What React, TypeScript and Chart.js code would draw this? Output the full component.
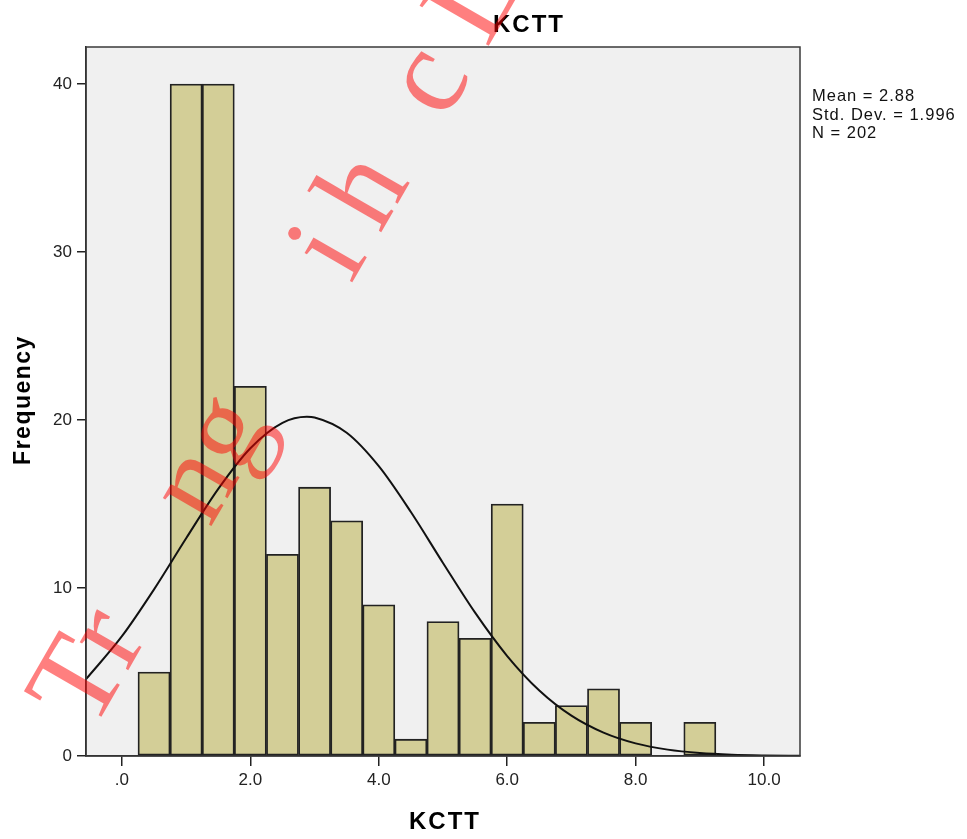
import React, { useEffect, useRef } from "react";
import { Chart, registerables } from "chart.js";

Chart.register(...registerables);

// Histogram bins (bin centers, width 0.5) and frequencies
const binCenters = [0.5, 1.0, 1.5, 2.0, 2.5, 3.0, 3.5, 4.0, 4.5, 5.0, 5.5, 6.0, 6.5, 7.0, 7.5, 8.0, 8.5, 9.0];
const frequencies = [5, 40, 40, 22, 12, 16, 14, 9, 1, 8, 7, 15, 2, 3, 4, 2, 0, 2];

// Normal curve (Mean 2.88, SD 1.996, N 202)
const curveX = [-0.56, 0, 0.5, 1, 1.5, 2, 2.5, 2.88, 3, 3.5, 4, 4.5, 5, 5.5, 6, 6.5, 7, 7.5, 8, 8.5, 9, 9.5, 10, 10.56];
const curveY = [4.57, 7.13, 9.92, 12.96, 15.9, 18.32, 19.83, 20.19, 20.15, 19.24, 17.25, 14.52, 11.49, 8.53, 5.95, 3.9, 2.4, 1.39, 0.75, 0.38, 0.18, 0.08, 0.035, 0.012];

const xTickValues = [0, 2, 4, 6, 8, 10];
const yTickValues = [0, 10, 20, 30, 40];

const chartTitle = "KCTT";
const xTitle = "KCTT";
const yTitle = "Frequency";
const statsLines = ["Mean = 2.88", "Std. Dev. = 1.996", "N = 202"];

// Watermark pieces (text + offset along its baseline)
const watermarkParts = ["Tr", "ng", "i", "h", "c", "L"];
const watermarkOffsets = [0, 236, 518, 576, 706, 790];

const SANS = "'Liberation Sans', Arial, sans-serif";

export default function App() {
  const ref = useRef<HTMLCanvasElement | null>(null);

  useEffect(() => {
    const canvas = ref.current;
    if (!canvas) return;

    const decor = {
      id: "decor",
      beforeDraw(chart: any) {
        const { ctx, chartArea } = chart;
        ctx.save();
        ctx.fillStyle = "#ffffff";
        ctx.fillRect(0, 0, chart.width, chart.height);
        ctx.fillStyle = "#f0f0f0";
        ctx.fillRect(chartArea.left, chartArea.top, chartArea.right - chartArea.left, chartArea.bottom - chartArea.top);
        ctx.restore();
      },
      afterDraw(chart: any) {
        const { ctx, chartArea } = chart;
        ctx.save();
        // frame
        ctx.strokeStyle = "#3a3a3a";
        ctx.lineWidth = 1.5;
        ctx.strokeRect(chartArea.left, chartArea.top, chartArea.right - chartArea.left, chartArea.bottom - chartArea.top);

        // titles
        ctx.fillStyle = "#000";
        ctx.textAlign = "center";
        ctx.textBaseline = "middle";
        ctx.font = `bold 24px ${SANS}`;
        (ctx as any).letterSpacing = "2px";
        ctx.fillText(chartTitle, 529, 25);
        ctx.fillText(xTitle, 445, 822);
        ctx.font = `bold 23px ${SANS}`;
        (ctx as any).letterSpacing = "1.5px";
        ctx.save();
        ctx.translate(24, 400);
        ctx.rotate(-Math.PI / 2);
        ctx.fillText(yTitle, 0, 0);
        ctx.restore();

        // stats
        ctx.font = `16.5px ${SANS}`;
        (ctx as any).letterSpacing = "1px";
        ctx.textAlign = "left";
        ctx.textBaseline = "alphabetic";
        ctx.fillStyle = "#111";
        statsLines.forEach((s, i) => ctx.fillText(s, 812, 101 + i * 18.5));
        (ctx as any).letterSpacing = "0px";

        // watermark
        ctx.save();
        ctx.translate(92, 733);
        ctx.rotate((-60 * Math.PI) / 180);
        ctx.font = `122px 'Liberation Serif', 'DejaVu Serif', serif`;
        ctx.fillStyle = "rgba(255, 0, 0, 0.5)";
        ctx.strokeStyle = "rgba(255, 0, 0, 0.5)";
        ctx.textAlign = "left";
        ctx.textBaseline = "alphabetic";
        watermarkParts.forEach((p, i) => ctx.fillText(p, watermarkOffsets[i], 0));
        ctx.restore();

        ctx.restore();
      },
    };

    const chart = new Chart(canvas, {
      type: "bar",
      data: {
        datasets: [
          {
            type: "line",
            data: curveX.map((x, i) => ({ x, y: curveY[i] })),
            borderColor: "#111",
            borderWidth: 2,
            pointRadius: 0,
            fill: false,
            cubicInterpolationMode: "monotone",
            order: 0,
          } as any,
          {
            type: "bar",
            data: binCenters.map((x, i) => ({ x, y: frequencies[i] })),
            backgroundColor: "#D3CE97",
            borderColor: "#222",
            borderWidth: 1.8,
            borderSkipped: false,
            barPercentage: 1,
            categoryPercentage: 1,
            order: 1,
          } as any,
        ],
      },
      plugins: [decor],
      options: {
        animation: false,
        responsive: false,
        devicePixelRatio: 1,
        layout: { padding: { left: 0, right: 167, top: 47, bottom: 0 } },
        plugins: { legend: { display: false }, tooltip: { enabled: false }, title: { display: false } },
        scales: {
          x: {
            type: "linear",
            min: -0.56,
            max: 10.56,
            offset: false,
            afterBuildTicks: (s: any) => {
              s.ticks = xTickValues.map((v) => ({ value: v }));
            },
            afterFit: (s: any) => {
              s.height = 83;
            },
            grid: { offset: false, drawOnChartArea: false, drawTicks: true, tickLength: 10, color: "#222", lineWidth: 1.5 },
            border: { display: true, color: "#222", width: 1.5 },
            ticks: {
              callback: (v: any) => (Number(v) === 0 ? ".0" : Number(v).toFixed(1)),
              font: { size: 17, family: SANS },
              color: "#222",
              padding: 4,
              maxRotation: 0,
              autoSkip: false,
            },
          },
          y: {
            type: "linear",
            min: 0,
            max: 42.2,
            afterBuildTicks: (s: any) => {
              s.ticks = yTickValues.map((v) => ({ value: v }));
            },
            afterFit: (s: any) => {
              s.width = 86;
            },
            grid: { drawOnChartArea: false, drawTicks: true, tickLength: 9, color: "#222", lineWidth: 1.5 },
            border: { display: true, color: "#222", width: 1.5 },
            ticks: {
              font: { size: 17, family: SANS },
              color: "#222",
              padding: 5,
              autoSkip: false,
            },
          },
        },
      } as any,
    });

    return () => chart.destroy();
  }, []);

  return (
    <div style={{ position: "fixed", left: 0, top: 0, width: 967, height: 839, background: "#fff" }}>
      <canvas ref={ref} width={967} height={839} style={{ width: 967, height: 839, display: "block" }} />
    </div>
  );
}
